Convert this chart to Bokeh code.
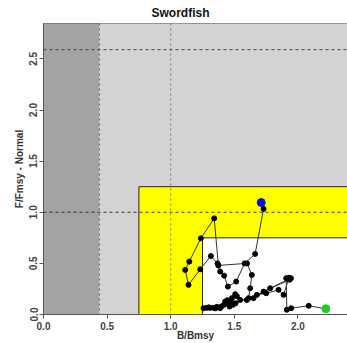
from bokeh.plotting import figure
from bokeh.models import Range1d, Span, FixedTicker, PrintfTickFormatter, ColumnDataSource
from bokeh.embed import file_html
from bokeh.resources import INLINE

# Trajectory (B/Bmsy, F/Fmsy), first point (green) to last point (blue)
b_bmsy = [2.220, 2.085, 1.947, 1.913, 1.908, 1.930, 1.887, 1.848, 1.751, 1.678,
          1.782, 1.945, 1.935, 1.730, 1.651, 1.599, 1.546, 1.520, 1.507, 1.481,
          1.490, 1.463, 1.455, 1.428, 1.400, 1.389, 1.363, 1.337, 1.310, 1.284,
          1.258, 1.300, 1.350, 1.420, 1.445, 1.475, 1.510, 1.612, 1.625, 1.638,
          1.600, 1.375, 1.342, 1.237, 1.146, 1.114, 1.140, 1.232, 1.316, 1.368,
          1.389, 1.420, 1.450, 1.515, 1.581, 1.664, 1.730, 1.712]
f_fmsy = [0.056, 0.085, 0.062, 0.046, 0.355, 0.360, 0.192, 0.241, 0.208, 0.192,
          0.257, 0.355, 0.340, 0.224, 0.160, 0.143, 0.143, 0.180, 0.199, 0.160,
          0.095, 0.078, 0.111, 0.127, 0.080, 0.062, 0.075, 0.065, 0.065, 0.065,
          0.062, 0.070, 0.060, 0.095, 0.140, 0.120, 0.110, 0.160, 0.257, 0.387,
          0.500, 0.480, 0.940, 0.745, 0.517, 0.436, 0.290, 0.442, 0.572, 0.500,
          0.420, 0.380, 0.273, 0.322, 0.500, 0.592, 1.033, 1.095]

x_ticks = [0.0, 0.5, 1.0, 1.5, 2.0]
y_ticks = [0.0, 0.5, 1.0, 1.5, 2.0, 2.5]

b_lim = 0.44      # dark zone boundary
b_yellow = 0.75
b_white = 1.25
f_yellow = 1.25
f_white = 0.75
f_ref = 1.0
b_ref = 1.0
f_lim = 2.59
x_max, y_max = 2.39, 2.846
FAR = 10.0

FONT = "Liberation Sans"

p = figure(width=347, height=343, output_backend="svg", toolbar_location=None,
           x_range=Range1d(0, x_max), y_range=Range1d(0, y_max),
           min_border_left=43, min_border_right=0, min_border_top=23, min_border_bottom=0,
           background_fill_color="white", border_fill_color="white")

p.title.text = "Swordfish"
p.title.align = "left"
p.title.offset = 108
p.title.text_font = FONT
p.title.text_font_size = "12px"
p.title.text_font_style = "bold"
p.title.text_color = "#111111"
p.title.standoff = 7

# Zones
p.quad(left=-FAR, right=b_lim, bottom=-FAR, top=FAR, fill_color="#A3A3A3", line_color=None)
p.quad(left=b_lim, right=FAR, bottom=-FAR, top=FAR, fill_color="#D3D3D3", line_color=None)
p.quad(left=b_yellow, right=FAR, bottom=-FAR, top=f_yellow, fill_color="#FFFF00",
       line_color="#222222", line_width=1)
p.quad(left=b_white, right=FAR, bottom=-FAR, top=f_white, fill_color="#FFFFFF",
       line_color="#222222", line_width=1)

# Reference lines
p.add_layout(Span(location=b_lim, dimension="height", line_color="#666666", line_dash="2 3", line_width=1))
p.add_layout(Span(location=b_ref, dimension="height", line_color="#777777", line_dash="2 3", line_width=1))
p.add_layout(Span(location=f_ref, dimension="width", line_color="#333333", line_dash="3 3", line_width=1))
p.add_layout(Span(location=f_lim, dimension="width", line_color="#444444", line_dash="3 3", line_width=1))

src = ColumnDataSource(dict(b=b_bmsy, f=f_fmsy))
p.line("b", "f", source=src, line_color="#333333", line_width=1)
p.scatter("b", "f", source=src, size=5, fill_color="black", line_color="black")
p.scatter([b_bmsy[0]], [f_fmsy[0]], size=8, fill_color="#22CC22", line_color="#22CC22")
p.scatter([b_bmsy[-1]], [f_fmsy[-1]], size=8, fill_color="#1010DD", line_color="#1010DD")

p.xgrid.visible = False
p.ygrid.visible = False
p.outline_line_color = "#555555"
p.outline_line_width = 1

for ax, ticks in ((p.xaxis[0], x_ticks), (p.yaxis[0], y_ticks)):
    ax.ticker = FixedTicker(ticks=ticks)
    ax.formatter = PrintfTickFormatter(format="%.1f")
    ax.major_tick_in = 0
    ax.major_tick_out = 4
    ax.minor_tick_line_color = None
    ax.major_tick_line_color = "#555555"
    ax.axis_line_color = "#555555"
    ax.major_label_text_font = FONT
    ax.major_label_text_font_size = "10px"
    ax.major_label_text_font_style = "bold"
    ax.major_label_text_color = "#444444"
    ax.axis_label_text_font = FONT
    ax.axis_label_text_font_size = "10px"
    ax.axis_label_text_font_style = "bold"
    ax.axis_label_text_color = "#333333"

p.xaxis.major_label_standoff = 3
p.xaxis.axis_label_standoff = -3
p.yaxis.major_label_standoff = 2
p.yaxis.axis_label_standoff = 2

p.xaxis.axis_label = "B/Bmsy"
p.yaxis.axis_label = "F/Fmsy - Normal"
p.yaxis.major_label_orientation = "vertical"

open("out.html", "w").write(file_html(p, INLINE))
